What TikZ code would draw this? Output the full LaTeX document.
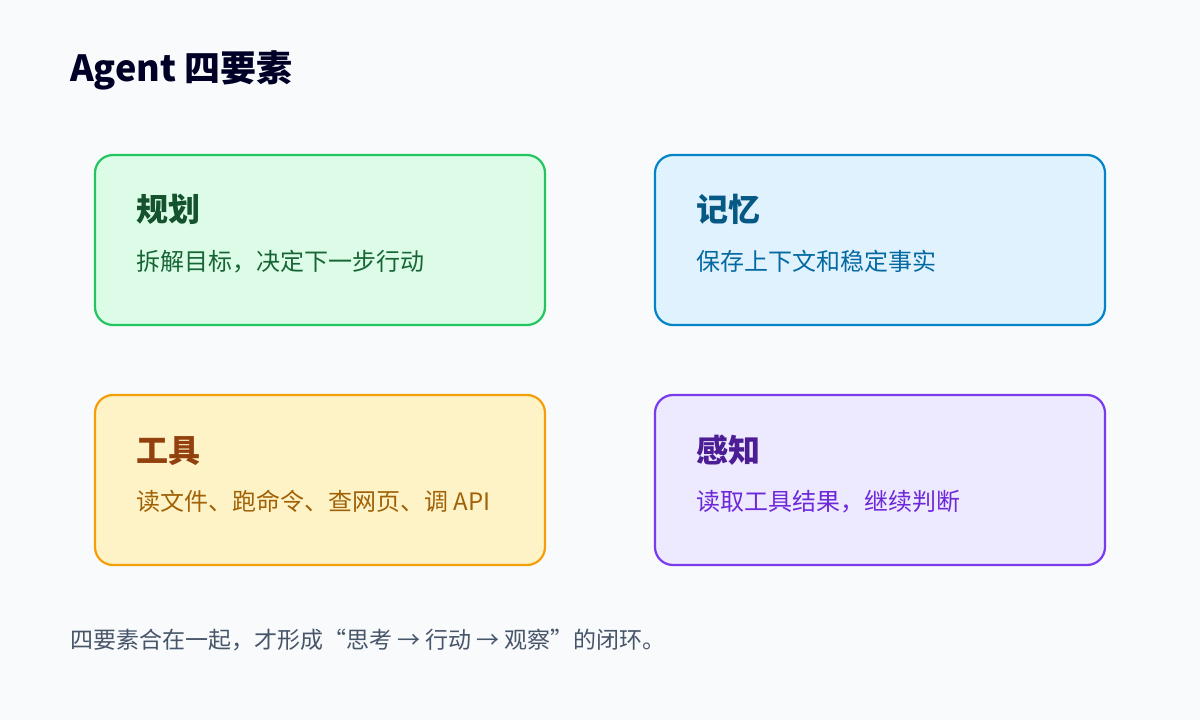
\documentclass[tikz,border=0pt]{standalone}
\usepackage{fontspec}
\setmainfont{Noto Sans CJK SC}
\begin{document}
\begin{tikzpicture}[x=1bp,y=-1bp,
 box/.style={draw,line width=2.2bp,rounded corners=18bp},
 ttl/.style={anchor=base west,inner sep=0,font=\fontsize{32bp}{36bp}\selectfont\bfseries},
 bdy/.style={anchor=base west,inner sep=0,font=\fontsize{24bp}{28bp}\selectfont}]
\definecolor{bg}{HTML}{F8FAFC}
\definecolor{gB}{HTML}{22C55E}\definecolor{gF}{HTML}{DCFCE7}\definecolor{gT}{HTML}{14532D}\definecolor{gX}{HTML}{166534}
\definecolor{bB}{HTML}{0284C7}\definecolor{bF}{HTML}{E0F2FE}\definecolor{bT}{HTML}{075985}\definecolor{bX}{HTML}{0369A1}
\definecolor{oB}{HTML}{F59E0B}\definecolor{oF}{HTML}{FEF3C7}\definecolor{oT}{HTML}{92400E}\definecolor{oX}{HTML}{A16207}
\definecolor{pB}{HTML}{7C3AED}\definecolor{pF}{HTML}{EDE9FE}\definecolor{pT}{HTML}{4C1D95}\definecolor{pX}{HTML}{6D28D9}
\fill[bg] (0,0) rectangle (1200,720);
\useasboundingbox (0,0) rectangle (1200,720);
\node[anchor=base west,inner sep=0,text=black!85!blue,font=\fontsize{36bp}{40bp}\selectfont\bfseries] (title) at (70,82) {Agent 四要素};
\draw[box,draw=gB,fill=gF] (95,155) rectangle (545,325);
\node[ttl,text=gT] (t1) at (136,222) {规划};
\node[bdy,text=gX] (b1) at (136,270) {拆解目标，决定下一步行动};
\draw[box,draw=bB,fill=bF] (655,155) rectangle (1105,325);
\node[ttl,text=bT] (t2) at (696,222) {记忆};
\node[bdy,text=bX] (b2) at (696,270) {保存上下文和稳定事实};
\draw[box,draw=oB,fill=oF] (95,395) rectangle (545,565);
\node[ttl,text=oT] (t3) at (136,462) {工具};
\node[bdy,text=oX] (b3) at (136,510) {读文件、跑命令、查网页、调 API};
\draw[box,draw=pB,fill=pF] (655,395) rectangle (1105,565);
\node[ttl,text=pT] (t4) at (696,462) {感知};
\node[bdy,text=pX] (b4) at (696,510) {读取工具结果，继续判断};
\node[anchor=base west,inner sep=0,text={rgb,255:red,71;green,85;blue,105},font=\fontsize{23bp}{28bp}\selectfont] (foot) at (70,648) {四要素合在一起，才形成“思考 → 行动 → 观察”的闭环。};
\end{tikzpicture}
\end{document}
